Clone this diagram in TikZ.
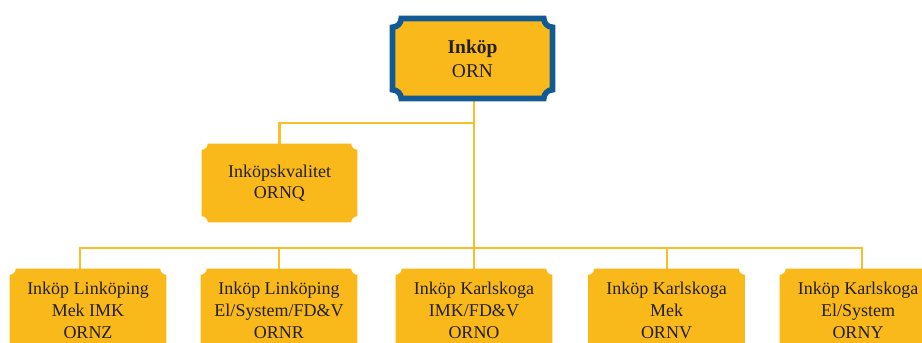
\documentclass[tikz,border=0pt]{standalone}
\usepackage{fontspec}
\setmainfont{Liberation Serif}
\pgfdeclarelayer{background}
\pgfsetlayers{background,main}
\definecolor{gold}{HTML}{F9B91A}
\definecolor{goldline}{HTML}{F9BE2C}
\definecolor{frameblue}{HTML}{125A93}
\definecolor{ink}{HTML}{231F1A}
% Rectangle with concave (ticket-style) corners around a named node
\newcommand\ticketpath[2]{%
  ([xshift=#2]#1.north west) -- ([xshift=-#2]#1.north east)
  arc[start angle=180,end angle=270,radius=#2]
  -- ([yshift=#2]#1.south east)
  arc[start angle=90,end angle=180,radius=#2]
  -- ([xshift=#2]#1.south west)
  arc[start angle=0,end angle=90,radius=#2]
  -- ([yshift=-#2]#1.north west)
  arc[start angle=270,end angle=360,radius=#2] -- cycle}
\tikzset{
  box/.style={rectangle, inner sep=0pt, align=center, text=ink,
    font=\fontsize{13.5}{16.5}\selectfont,
    minimum width=117pt, minimum height=61.5pt},
  headbox/.style={box, font=\fontsize{14.6}{18}\selectfont,
    minimum width=119.6pt, minimum height=59.6pt},
  conn/.style={draw=goldline, line width=1.6pt},
}
\begin{document}
\begin{tikzpicture}[x=0.75pt,y=0.75pt]
\useasboundingbox (0,-343) rectangle (922,0);

% boxes and their labels
\node[headbox] (orn) at (472.5,-58.5) {\textbf{Inköp}\\ORN};
\node[box, minimum width=116.25pt, minimum height=58.5pt,
      font=\fontsize{13.5}{16}\selectfont] (q) at (279.5,-183) {Inköpskvalitet\\ORNQ};
\node[box] (b1) at (88,-310)  {Inköp Linköping\\Mek IMK\\ORNZ};
\node[box] (b2) at (279,-310) {Inköp Linköping\\El/System/FD\&V\\ORNR};
\node[box] (b3) at (474,-310) {Inköp Karlskoga\\IMK/FD\&V\\ORNO};
\node[box] (b4) at (666.5,-310) {Inköp Karlskoga\\Mek\\ORNV};
\node[box] (b5) at (858,-310) {Inköp Karlskoga\\El/System\\ORNY};

% junction points of the connector tree
\coordinate (split) at (474,-123);
\coordinate (bus) at (474,-248);

\begin{pgfonlayer}{background}
  \clip (0,-343) rectangle (922,0);
  % connectors
  \draw[conn] (orn.south -| bus) -- (bus);
  \draw[conn] (split) -| (q.north);
  \draw[conn] (bus) -| ([xshift=-6pt]b1.north);
  \draw[conn] (bus) -| (b2.north);
  \draw[conn] (bus) -- (b3.north);
  \draw[conn] (bus) -| ([xshift=0.4pt]b4.north);
  \draw[conn] (bus) -| ([xshift=3pt]b5.north);
  % box shapes
  \filldraw[fill=gold, draw=frameblue, line width=4.2pt] \ticketpath{orn}{6.5pt};
  \fill[gold] \ticketpath{q}{4.5pt};
  \foreach \b in {b1,b2,b3,b4,b5} {
    \fill[gold] \ticketpath{\b}{4.5pt};
  }
\end{pgfonlayer}
\end{tikzpicture}
\end{document}
